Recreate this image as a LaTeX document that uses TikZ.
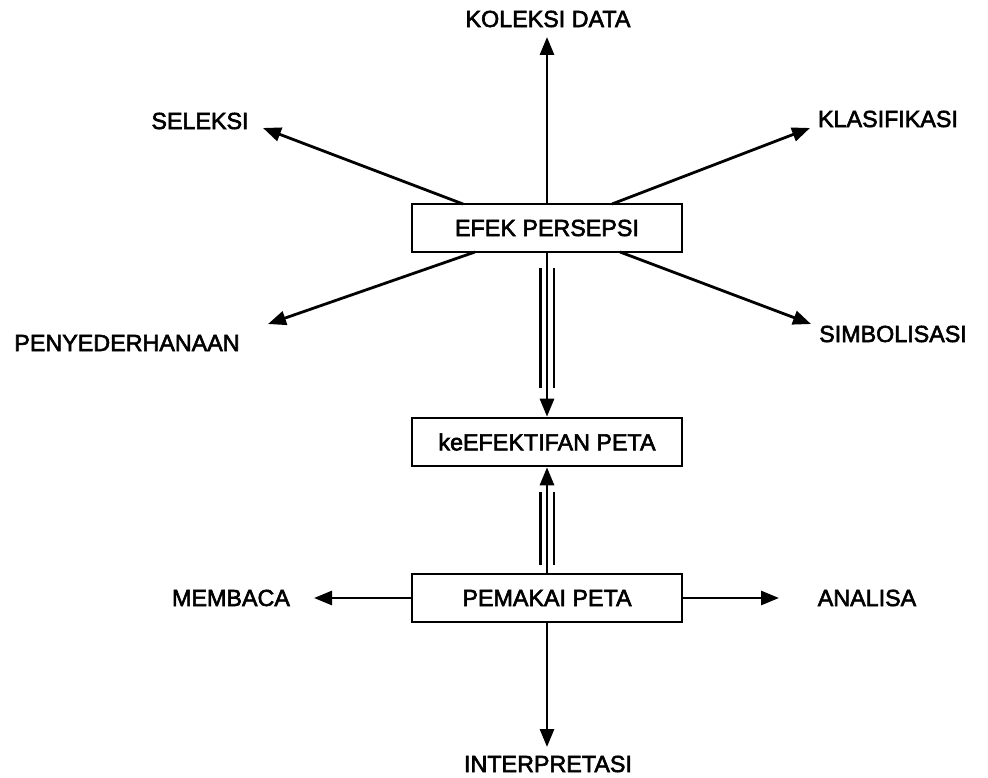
\documentclass[tikz,border=0pt]{standalone}
\usepackage{fontspec}
\setmainfont{Liberation Sans}
\newfontfamily\lblfont{Liberation Sans}[FakeBold=2.5]
\usetikzlibrary{arrows.meta}
\begin{document}
\begin{tikzpicture}[x=1pt,y=-1pt,
  lbl/.style={font=\lblfont\fontsize{23.3}{27}\selectfont, inner sep=0pt},
  boxnode/.style={draw, line width=2.6pt, minimum width=270pt, minimum height=48pt, inner sep=0pt, font=\lblfont\fontsize{23.3}{27}\selectfont},
  arr/.style={line width=2.8pt, -{Triangle[length=18pt,width=14pt]}},
  side/.style={line width=2.5pt}]
\useasboundingbox (0,0) rectangle (988,778);
% boxes
\node[boxnode] (ep) at (547,228) {EFEK PERSEPSI};
\node[boxnode] (ke) at (547,442) {keEFEKTIFAN PETA};
\node[boxnode] (pp) at (547,598) {PEMAKAI PETA};
% labels
\node[lbl] (kol) at (548,19) {KOLEKSI DATA};
\node[lbl] (sel) at (200,121) {SELEKSI};
\node[lbl] (kla) at (888,119) {KLASIFIKASI};
\node[lbl] (pen) at (127,343) {PENYEDERHANAAN};
\node[lbl] (sim) at (893,334) {SIMBOLISASI};
\node[lbl] (mem) at (231,598) {MEMBACA};
\node[lbl] (ana) at (867,598) {ANALISA};
\node[lbl] (int) at (548,764) {INTERPRETASI};
% connector end points
\coordinate (t1) at (547,37);
\coordinate (s0) at (463,204);
\coordinate (s1) at (263,128);
\coordinate (k0) at (612,204);
\coordinate (k1) at (810,128);
\coordinate (p0) at (475,252);
\coordinate (p1) at (268,324);
\coordinate (m0) at (620,252);
\coordinate (m1) at (811,324);
\coordinate (r1) at (314,598);
\coordinate (a1) at (779,598);
\coordinate (i1) at (547,747);
% arrows from EFEK PERSEPSI
\draw[arr] (ep.north) -- (t1);
\draw[arr] (s0) -- (s1);
\draw[arr] (k0) -- (k1);
\draw[arr] (p0) -- (p1);
\draw[arr] (m0) -- (m1);
% triple connectors
\draw[arr] (ep.south) -- (ke.north);
\draw[side] (540.5,268) -- (540.5,388);
\draw[side] (554,268) -- (554,388);
\draw[arr] (pp.north) -- (ke.south);
\draw[side] (540.5,492) -- (540.5,565);
\draw[side] (554,492) -- (554,565);
% PEMAKAI PETA arrows
\draw[arr] (pp.west) -- (r1);
\draw[arr] (pp.east) -- (a1);
\draw[arr] (pp.south) -- (i1);
\end{tikzpicture}
\end{document}
